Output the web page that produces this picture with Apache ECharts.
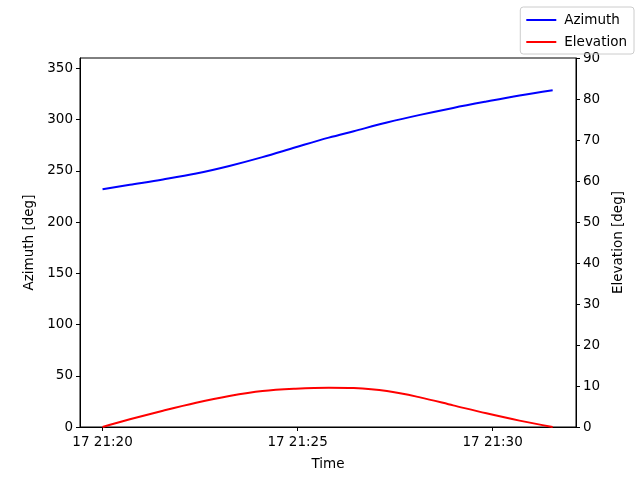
<!DOCTYPE html>
<html><head><meta charset="utf-8">
<script src="https://cdn.jsdelivr.net/npm/echarts@6/dist/echarts.min.js"></script>
<style>html,body{margin:0;padding:0;background:#fff}#c{width:640px;height:480px}</style>
</head><body><div id="c"></div>
<script>
// minutes after 17 21:20:00
var timeMinutes = [0, 0.7, 1.55, 2.4, 3.25, 4.1, 4.95, 5.8, 6.44, 7.29, 8.14, 8.99, 9.84, 10.69, 11.54];
var azimuth = [232.0, 236.3, 241.5, 247.3, 254.7, 263.3, 272.9, 282.3, 288.6, 297.0, 304.5, 311.3, 317.5, 323.4, 328.6];
var elevation = [0.0, 1.87, 3.98, 5.93, 7.56, 8.78, 9.35, 9.6, 9.5, 8.78, 7.23, 5.28, 3.33, 1.55, 0.0];
var xTickValues = [0, 5, 10];
var xTickLabels = ['17 21:20', '17 21:25', '17 21:30'];
var azTicks = [0, 50, 100, 150, 200, 250, 300, 350];

var chart = echarts.init(document.getElementById('c'));
var font = 'DejaVu Sans';
var fs = 13.5;
var azData = timeMinutes.map(function (t, i) { return [t, azimuth[i]]; });
var elData = timeMinutes.map(function (t, i) { return [t, elevation[i]]; });
function line() { return { show: true, onZero: false, lineStyle: { color: '#000', width: 1 } }; }
var axisTick = { show: true, length: 4, lineStyle: { color: '#000' } };
chart.setOption({
  animation: false,
  textStyle: { fontFamily: font },
  grid: { left: 80, right: 64, top: 58, bottom: 53, show: true, borderColor: '#000', borderWidth: 1, backgroundColor: 'transparent' },
  legend: {
    right: 6, top: 7, orient: 'vertical', icon: 'rect',
    borderColor: '#ccc', borderWidth: 1, borderRadius: 3,
    padding: [6, 7, 5, 6], itemGap: 8, itemWidth: 30, itemHeight: 2,
    textStyle: { fontFamily: font, fontSize: fs, color: '#000', padding: [0, 0, 0, 3] },
    data: ['Azimuth', 'Elevation']
  },
  xAxis: {
    type: 'value', min: -0.578, max: 12.138,
    name: 'Time', nameLocation: 'middle', nameGap: 30,
    nameTextStyle: { fontFamily: font, fontSize: fs, color: '#000' },
    axisLine: line(), splitLine: { show: false },
    axisTick: Object.assign({}, axisTick, { customValues: xTickValues }),
    axisLabel: {
      customValues: xTickValues, fontFamily: font, fontSize: fs, color: '#000', margin: 8,
      formatter: function (v) { var i = xTickValues.indexOf(v); return i >= 0 ? xTickLabels[i] : ''; }
    }
  },
  yAxis: [{
    type: 'value', min: 0, max: 360, position: 'left',
    name: 'Azimuth [deg]', nameLocation: 'middle', nameGap: 43,
    nameTextStyle: { fontFamily: font, fontSize: fs, color: '#000' },
    axisLine: line(), splitLine: { show: false },
    axisTick: Object.assign({}, axisTick, { customValues: azTicks }),
    axisLabel: { customValues: azTicks, fontFamily: font, fontSize: fs, color: '#000', margin: 7 }
  }, {
    type: 'value', min: 0, max: 90, interval: 10, position: 'right',
    name: 'Elevation [deg]', nameLocation: 'middle', nameGap: 33,
    nameTextStyle: { fontFamily: font, fontSize: fs, color: '#000' },
    axisLine: line(), splitLine: { show: false },
    axisTick: axisTick,
    axisLabel: { fontFamily: font, fontSize: fs, color: '#000', margin: 7 }
  }],
  series: [{
    name: 'Azimuth', type: 'line', yAxisIndex: 0, data: azData, smooth: 0.35,
    symbol: 'none', lineStyle: { color: '#0000ff', width: 2 }, itemStyle: { color: '#0000ff' }
  }, {
    name: 'Elevation', type: 'line', yAxisIndex: 1, data: elData, smooth: 0.35,
    symbol: 'none', lineStyle: { color: '#ff0000', width: 2 }, itemStyle: { color: '#ff0000' }
  }]
});
</script></body></html>
